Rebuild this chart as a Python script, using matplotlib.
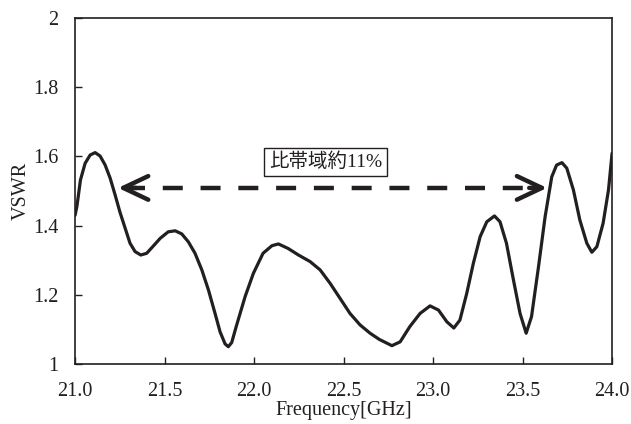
import numpy as np
import matplotlib.pyplot as plt

# VSWR curve
freq = [21.000, 21.010, 21.030, 21.056, 21.084, 21.112, 21.140, 21.168, 21.196, 21.224,
        21.250, 21.280, 21.307, 21.335, 21.367, 21.400, 21.437, 21.475, 21.520, 21.559,
        21.596, 21.633, 21.670, 21.708, 21.745, 21.782, 21.810, 21.838, 21.856, 21.875,
        21.900, 21.950, 21.996, 22.050, 22.100, 22.136, 22.190, 22.248, 22.313, 22.369,
        22.425, 22.480, 22.536, 22.592, 22.648, 22.700, 22.770, 22.816, 22.870, 22.927,
        22.983, 23.030, 23.077, 23.116, 23.150, 23.188, 23.225, 23.263, 23.300, 23.343,
        23.374, 23.410, 23.449, 23.486, 23.520, 23.550, 23.589, 23.626, 23.663, 23.690,
        23.720, 23.747, 23.784, 23.820, 23.859, 23.887, 23.915, 23.950, 23.980, 24.000]
vswr = [1.430, 1.455, 1.532, 1.580, 1.604, 1.611, 1.601, 1.575, 1.537, 1.488,
        1.440, 1.392, 1.349, 1.325, 1.315, 1.320, 1.341, 1.363, 1.382, 1.385,
        1.376, 1.353, 1.320, 1.272, 1.214, 1.146, 1.093, 1.058, 1.050, 1.062,
        1.108, 1.195, 1.262, 1.320, 1.342, 1.347, 1.334, 1.315, 1.296, 1.272,
        1.233, 1.190, 1.146, 1.113, 1.089, 1.071, 1.053, 1.064, 1.108, 1.146,
        1.168, 1.156, 1.122, 1.104, 1.127, 1.204, 1.291, 1.368, 1.411, 1.428,
        1.411, 1.349, 1.243, 1.146, 1.089, 1.137, 1.281, 1.426, 1.541, 1.575,
        1.582, 1.566, 1.503, 1.416, 1.349, 1.323, 1.339, 1.407, 1.503, 1.609]

x_ticks = [21.0, 21.5, 22.0, 22.5, 23.0, 23.5, 24.0]
y_ticks = [1.0, 1.2, 1.4, 1.6, 1.8, 2.0]
y_tick_labels = ["1", "1.2", "1.4", "1.6", "1.8", "2"]

band_start, band_end, band_level = 21.24, 23.637, 1.509
note = "比帯域約11%"
note_x, note_y = 22.40, 1.584

plt.rcParams['font.family'] = ['Liberation Serif', 'Noto Sans CJK JP']

fig = plt.figure(figsize=(6.31, 4.24), dpi=100)
ax = fig.add_axes([0.119, 0.1415, 0.851, 0.816])

ax.plot(freq, vswr, color='#231f20', lw=2.3, solid_joinstyle='round', solid_capstyle='round')

# dashed band arrow
ax.plot([band_start + 0.04, band_end - 0.04], [band_level, band_level],
        color='#231f20', lw=3.2, linestyle=(0, (4.5, 4.0)))
for tip, back in [(band_start, band_start + 0.1), (band_end, band_end - 0.1)]:
    ax.annotate('', xy=(tip, band_level), xytext=(back, band_level),
                arrowprops=dict(arrowstyle='->,head_length=1.8,head_width=0.85',
                                color='#231f20', lw=3.2, mutation_scale=10,
                                shrinkA=0, shrinkB=0))

ax.text(note_x, note_y, note, fontsize=14, ha='center', va='center', color='#231f20',
        bbox=dict(boxstyle='square,pad=0.25', fc='white', ec='#231f20', lw=1.0))

ax.set_xlim(21.0, 24.0)
ax.set_ylim(1.0, 2.0)
ax.set_xticks(x_ticks)
ax.set_xticklabels([f"{v:.1f}" for v in x_ticks])
ax.set_yticks(y_ticks)
ax.set_yticklabels(y_tick_labels)
ax.tick_params(direction='in', length=5, width=1, labelsize=14.5, colors='#231f20')
ax.tick_params(axis='x', pad=13)
ax.tick_params(axis='y', pad=12)
for s in ax.spines.values():
    s.set_linewidth(1.2)
    s.set_color('#231f20')

ax.set_xlabel("Frequency[GHz]", fontsize=14.5, color='#231f20', labelpad=0)
ax.set_ylabel("VSWR", fontsize=14.5, color='#231f20', labelpad=2)

fig.savefig("out.png", dpi=100)
